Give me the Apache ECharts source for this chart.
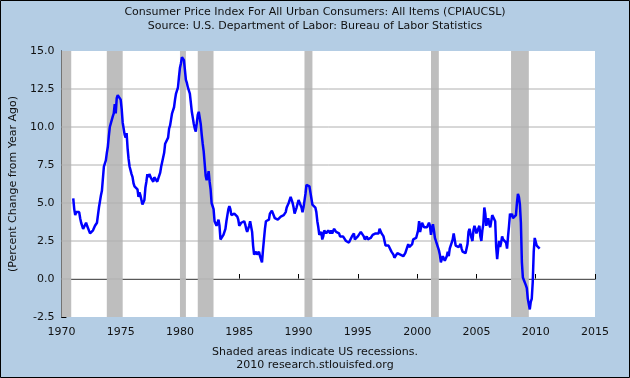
<!DOCTYPE html>
<html>
<head>
<meta charset="utf-8">
<script src="https://cdn.jsdelivr.net/npm/echarts@6/dist/echarts.min.js"></script>
<style>
html,body{margin:0;padding:0;background:#b4cde4;}
#chart{width:630px;height:378px;}
</style>
</head>
<body>
<div id="chart"></div>
<script>
// Monthly CPI percent change from year ago, starting January 1971
const startYear = 1971;
const cpi1971to1980 = [
  5.3,4.6,4.2,4.4,4.5,4.5,4.4,4.0,3.7,3.5,3.3,3.3,
  3.3,3.7,3.5,3.6,3.4,3.0,3.0,3.0,3.2,3.3,3.5,3.4,
  3.7,4.2,4.7,5.1,5.5,5.8,5.8,7.4,7.5,7.8,8.3,8.7,
  9.4,10.0,10.1,10.1,10.7,10.9,11.5,10.9,11.9,12.1,12.2,12.1,
  11.8,11.2,10.3,10.2,9.5,9.3,9.6,8.6,7.9,7.4,7.4,6.9,
  6.7,6.3,6.1,6.0,6.2,5.9,5.4,5.7,5.5,5.5,4.9,4.9,
  5.2,6.0,6.4,6.9,6.7,6.9,6.8,6.6,6.6,6.4,6.7,6.7,
  6.8,6.4,6.6,6.5,7.0,7.4,7.7,7.8,8.3,8.9,8.9,9.0,
  9.3,9.9,10.1,10.5,10.9,10.9,11.3,11.8,12.2,12.1,12.6,13.3,
  13.9,14.2,14.6,14.7,14.4,14.4,13.1,12.9,12.6,12.6,12.2,11.6
];
const cpi1981to1990 = [
  11.0,10.6,10.2,9.9,9.7,9.8,10.8,11.0,10.9,10.2,9.5,8.9,
  8.4,7.6,6.8,6.5,6.7,7.1,6.4,5.9,5.0,5.1,4.6,3.8,
  3.7,3.5,3.6,3.9,3.5,2.6,2.5,2.6,2.9,2.9,3.3,3.8,
  4.2,4.6,4.8,4.6,4.2,4.2,4.2,4.3,4.3,4.3,4.1,3.9,
  3.5,3.5,3.7,3.7,3.8,3.8,3.6,3.3,3.1,3.2,3.5,3.8,
  3.9,3.1,2.2,1.6,1.5,1.8,1.6,1.6,1.8,1.5,1.3,1.1,
  1.9,2.6,3.3,3.8,3.9,3.7,3.9,4.3,4.4,4.5,4.5,4.4,
  4.0,3.9,3.9,3.9,3.9,4.0,4.1,4.0,4.2,4.2,4.2,4.4,
  4.7,4.8,5.0,5.1,5.4,5.2,5.0,4.7,4.3,4.5,4.7,4.6,
  5.2,5.3,5.2,4.7,4.4,4.7,4.8,5.6,6.2,6.3,6.3,6.1
];
const cpi1991to2000 = [
  5.7,5.3,4.9,4.9,5.0,4.7,4.4,3.8,3.4,2.9,3.0,3.1,
  2.6,2.8,3.2,3.2,3.0,3.1,3.2,3.1,3.0,3.2,3.0,2.9,
  3.3,3.2,3.1,3.2,3.2,3.0,2.8,2.8,2.7,2.8,2.7,2.7,
  2.5,2.5,2.5,2.4,2.3,2.5,2.8,2.9,3.0,2.6,2.7,2.7,
  2.8,2.9,2.9,3.1,3.2,3.0,2.8,2.6,2.5,2.8,2.6,2.5,
  2.7,2.7,2.8,2.9,2.9,2.8,3.0,2.9,3.0,3.0,3.3,3.3,
  3.0,3.0,2.8,2.5,2.2,2.3,2.2,2.2,2.2,2.1,1.8,1.7,
  1.6,1.4,1.4,1.4,1.7,1.7,1.7,1.6,1.5,1.5,1.5,1.6,
  1.7,1.6,1.7,2.3,2.1,2.0,2.1,2.3,2.6,2.6,2.6,2.7,
  2.7,3.2,3.8,3.1,3.2,3.7,3.7,3.4,3.5,3.4,3.4,3.4
];
const cpi2001to2010 = [
  3.7,3.5,2.9,3.3,3.6,3.2,2.7,2.7,2.6,2.1,1.9,1.6,
  1.1,1.1,1.5,1.6,1.2,1.1,1.5,1.8,1.5,2.0,2.2,2.4,
  2.6,3.0,3.0,2.2,2.1,2.1,2.1,2.2,2.3,2.0,1.8,1.9,
  1.9,1.7,1.7,2.3,3.1,3.3,3.0,2.7,2.5,3.2,3.5,3.3,
  3.0,3.0,3.1,3.5,2.8,2.5,3.2,3.6,4.7,4.3,3.5,3.4,
  4.0,3.6,3.4,3.5,4.2,4.3,4.1,3.8,2.1,1.3,2.0,2.5,
  2.1,2.4,2.8,2.6,2.7,2.7,2.4,2.0,2.8,3.5,4.3,4.1,
  4.3,4.0,4.0,3.9,4.2,5.0,5.6,5.4,4.9,3.7,1.1,0.1,
  0.0,0.2,-0.4,-0.6,-1.3,-1.4,-2.0,-1.5,-1.3,-0.2,1.8,2.7,
  2.6,2.2,2.3,2.2,2.0
];
// Recession periods (decimal years: start, end)
const recessionStarts = [1970.0, 1973.83, 1980.0, 1981.5, 1990.5, 2001.17, 2007.92];
const recessionEnds   = [1970.83, 1975.17, 1980.5, 1982.83, 1991.17, 2001.83, 2009.42];
const yearTicks = [1970, 1975, 1980, 1985, 1990, 1995, 2000, 2005, 2010, 2015];
const valueTicks = [-2.5, 0.0, 2.5, 5.0, 7.5, 10.0, 12.5, 15.0];

const titleLines = ['Consumer Price Index For All Urban Consumers: All Items (CPIAUCSL)',
                    'Source: U.S. Department of Labor: Bureau of Labor Statistics'];
const footLines = ['Shaded areas indicate US recessions.', '2010 research.stlouisfed.org'];
const yName = '(Percent Change from Year Ago)';

const allValues = [].concat(cpi1971to1980, cpi1981to1990, cpi1991to2000, cpi2001to2010);
const seriesData = allValues.map((v, i) => [startYear + i / 12, v]);
const areas = recessionStarts.map((s, i) => [{xAxis: s}, {xAxis: recessionEnds[i]}]);
const xMin = yearTicks[0], xMax = yearTicks[yearTicks.length - 1];

// Horizontal grid lines at the interior value ticks, drawn as plain line series
const gridSeries = valueTicks.slice(1, -1).map(v => ({
  type: 'line', data: [[xMin, v], [xMax, v]], showSymbol: false, symbol: 'none',
  silent: true, z: 2, lineStyle: {color: '#b0b0b0', width: 1, type: 'solid'},
  emphasis: {disabled: true}, tooltip: {show: false}
}));

const FONT = 'DejaVu Sans';
const chart = echarts.init(document.getElementById('chart'), null, {renderer: 'canvas'});
chart.setOption({
  backgroundColor: '#b4cde4',
  animation: false,
  grid: {left: 59, top: 51, width: 536, height: 266, show: true, backgroundColor: '#ffffff', borderWidth: 0},
  xAxis: {
    type: 'value', min: xMin, max: xMax, interval: 5,
    axisLine: {show: true, lineStyle: {color: '#000', width: 1}},
    axisTick: {show: true, inside: true, length: 5, lineStyle: {color: '#000'}},
    axisLabel: {color: '#111', fontSize: 11, fontFamily: FONT, margin: 10, formatter: v => String(Math.round(v))},
    splitLine: {show: false}
  },
  yAxis: {
    type: 'value', min: valueTicks[0], max: valueTicks[valueTicks.length - 1], interval: 2.5,
    name: yName, nameLocation: 'middle', nameGap: 39,
    nameTextStyle: {color: '#111', fontSize: 11, fontFamily: FONT},
    axisLine: {show: true, lineStyle: {color: '#000', width: 1}},
    axisTick: {show: true, inside: true, length: 5, lineStyle: {color: '#000'}},
    axisLabel: {color: '#111', fontSize: 11, fontFamily: FONT, margin: 7, formatter: v => v.toFixed(1)},
    splitLine: {show: false}
  },
  series: gridSeries.concat([
    {
      type: 'line', name: 'CPI', data: seriesData, showSymbol: false, symbol: 'none',
      lineStyle: {color: '#0000ff', width: 2.5}, z: 3,
      markArea: {silent: true, itemStyle: {color: '#bebebe'}, data: areas}
    }
  ]),
  graphic: [
    {type: 'text', left: 'center', top: 5, style: {text: titleLines.join('\n'), font: '11px "' + FONT + '"', fill: '#111', lineHeight: 14, textAlign: 'center'}},
    {type: 'text', left: 'center', top: 346, style: {text: footLines.join('\n'), font: '11px "' + FONT + '"', fill: '#111', lineHeight: 13, textAlign: 'center'}},
    {type: 'rect', shape: {x: 0.5, y: 0.5, width: 629, height: 377}, style: {fill: 'none', stroke: '#000', lineWidth: 1}, silent: true}
  ]
});
</script>
</body>
</html>
